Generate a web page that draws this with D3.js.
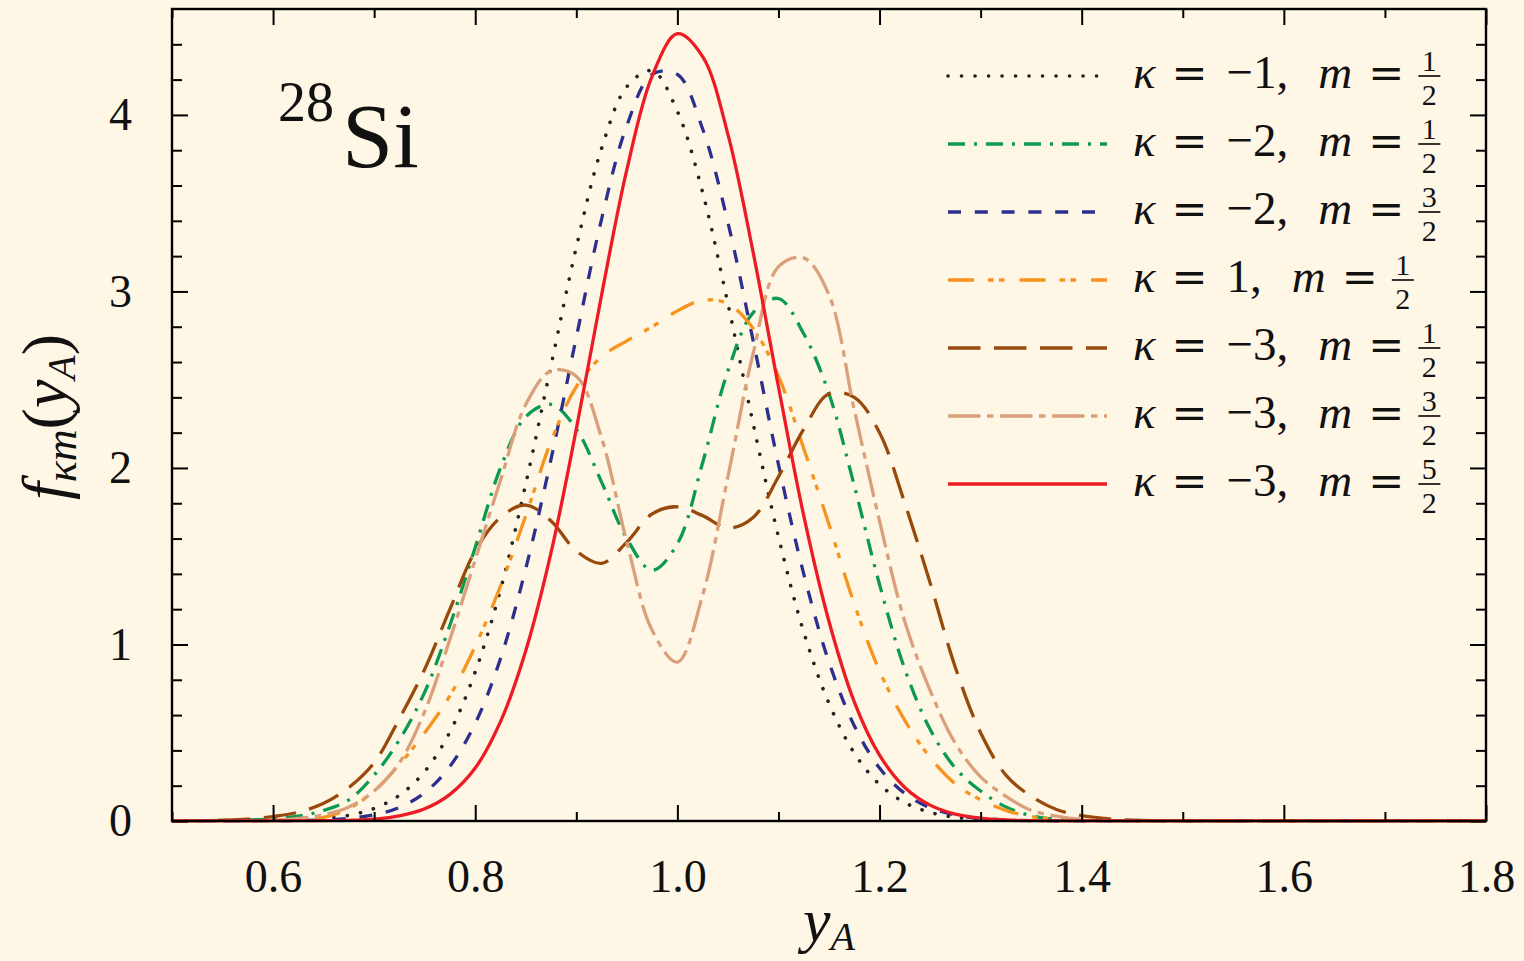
<!DOCTYPE html>
<html><head><meta charset="utf-8">
<script src="https://cdn.jsdelivr.net/npm/d3@7"></script>
<style>
html,body{margin:0;padding:0;background:#fef7e6;}
svg{display:block;}
text{font-family:"Liberation Serif","DejaVu Serif",serif;fill:#111;}
</style>
</head><body>
<svg id="chart" width="1524" height="961"></svg>
<script>
// ---------------- data ----------------
const xGrid = [0.500,0.525,0.550,0.575,0.600,0.625,0.650,0.675,0.700,0.725,0.750,0.775,0.800,0.825,0.850,0.875,0.900,0.925,0.950,0.975,1.000,1.025,1.050,1.075,1.100,1.125,1.150,1.175,1.200,1.225,1.250,1.275,1.300,1.325,1.350,1.375,1.400,1.425,1.450,1.475,1.500,1.800];

const fK1m1 = [0,0,0,0.0005,0.002,0.005,0.013,0.032,0.071,0.146,0.28,0.505,0.845,1.31,1.91,2.58,3.25,3.81,4.16,4.25,4.02,3.56,2.93,2.25,1.61,1.07,0.666,0.385,0.207,0.104,0.049,0.021,0.0086,0.0033,0.001,0,0,0,0,0,0,0];
const fK2m1 = [0,0.001,0.003,0.006,0.012,0.027,0.06,0.12,0.26,0.46,0.73,1.11,1.55,2.0,2.29,2.36,2.22,1.92,1.60,1.42,1.57,2.03,2.55,2.88,2.96,2.76,2.42,1.90,1.34,0.86,0.52,0.30,0.17,0.08,0.03,0.01,0.003,0.001,0,0,0,0];
const fK2m3 = [0,0,0,0.0002,0.0007,0.002,0.0056,0.0145,0.035,0.077,0.16,0.31,0.553,0.92,1.43,2.05,2.74,3.41,3.94,4.23,4.23,3.92,3.39,2.72,2.02,1.40,0.90,0.54,0.30,0.156,0.075,0.034,0.014,0.005,0.002,0,0,0,0,0,0,0];
const fKp1m1 = [0,0,0,0.001,0.003,0.008,0.02,0.07,0.17,0.32,0.50,0.71,0.99,1.33,1.73,2.15,2.46,2.63,2.72,2.80,2.89,2.95,2.93,2.79,2.52,2.11,1.68,1.23,0.85,0.57,0.36,0.21,0.12,0.06,0.025,0.01,0.003,0.001,0,0,0,0];
const fK3m1 = [0,0.002,0.004,0.01,0.025,0.05,0.10,0.19,0.33,0.58,0.86,1.20,1.53,1.72,1.79,1.70,1.53,1.46,1.58,1.74,1.78,1.73,1.66,1.72,1.95,2.22,2.42,2.40,2.20,1.80,1.35,0.87,0.50,0.26,0.14,0.065,0.03,0.013,0.005,0.002,0,0];
const fK3m3 = [0,0,0,0.002,0.005,0.015,0.035,0.08,0.17,0.33,0.62,1.03,1.48,1.93,2.36,2.55,2.52,2.17,1.58,1.08,0.90,1.28,1.95,2.65,3.14,3.19,2.98,2.33,1.70,1.13,0.74,0.44,0.25,0.14,0.06,0.028,0.009,0.002,0,0,0,0];
const fK3m5 = [0,0,0,0,0.0001,0.0005,0.0014,0.004,0.011,0.029,0.069,0.151,0.30,0.563,0.965,1.52,2.22,2.98,3.69,4.22,4.46,4.33,3.89,3.22,2.46,1.73,1.13,0.675,0.373,0.19,0.09,0.039,0.016,0.006,0.002,0,0,0,0,0,0,0];

const seriesValues = [fK1m1, fK2m1, fK2m3, fKp1m1, fK3m1, fK3m3, fK3m5];
const seriesKappa = ["\u22121", "\u22122", "\u22122", "1", "\u22123", "\u22123", "\u22123"];
const seriesMNum = ["1", "1", "3", "1", "1", "3", "5"];
const seriesMDen = ["2", "2", "2", "2", "2", "2", "2"];
const seriesColors = ["#222222", "#0b9a50", "#2c2f8e", "#f7941d", "#984a0c", "#d9a07b", "#ed1c24"];
const seriesDash = ["0.1,13.4", "17,9,3,9", "13,13.8", "26,14,5.5,5.5,5.5,15", "32.5,13.5", "32.5,6.5,6.5,6.5", null];

const xTickMajor = [0.6, 0.8, 1.0, 1.2, 1.4, 1.6, 1.8];
const xTickLabels = ["0.6", "0.8", "1.0", "1.2", "1.4", "1.6", "1.8"];
const xTickMinor = [0.5, 0.7, 0.9, 1.1, 1.3, 1.5, 1.7];
const yTickMajor = [0, 1, 2, 3, 4];
const yTickLabels = ["0", "1", "2", "3", "4"];
const yTickMinor = [0.2,0.4,0.6,0.8,1.2,1.4,1.6,1.8,2.2,2.4,2.6,2.8,3.2,3.4,3.6,3.8,4.2,4.4];

// ---------------- layout ----------------
const svg = d3.select("#chart");
svg.append("rect").attr("width", 1524).attr("height", 961).attr("fill", "#fef7e6");

const L = 172, R = 1486, T = 9, B = 821;
const x = d3.scaleLinear().domain([0.5, 1.8]).range([L, R]);
const y = d3.scaleLinear().domain([0, 4.6]).range([B, T]);

svg.append("defs").append("clipPath").attr("id", "clip")
  .append("rect").attr("x", L).attr("y", T).attr("width", R - L).attr("height", B - T + 1.5);

// curves
const line = d3.line().x((d, i) => x(xGrid[i])).y(d => y(d)).curve(d3.curveCatmullRom.alpha(0.5));
const gCurves = svg.append("g").attr("clip-path", "url(#clip)");
seriesValues.forEach((vals, k) => {
  const p = gCurves.append("path").datum(vals)
    .attr("d", line)
    .attr("fill", "none")
    .attr("stroke", seriesColors[k])
    .attr("stroke-width", k === 0 ? 3.6 : 3.3);
  if (seriesDash[k]) p.attr("stroke-dasharray", seriesDash[k]);
  if (k === 0) p.attr("stroke-linecap", "round");
});

// axes (ticks pointing inward)
function styleAxis(g) {
  g.attr("font-family", null);
  g.select(".domain").remove();
  g.selectAll(".tick line").attr("stroke", "#000").attr("stroke-width", 2);
  g.selectAll("text").style("font-family", '"Liberation Serif", "DejaVu Serif", serif').style("font-size", "46px").attr("fill", "#111");
}
const fmtX = d => xTickLabels[xTickMajor.indexOf(d)];
const fmtY = d => yTickLabels[yTickMajor.indexOf(d)];

svg.append("g").attr("transform", `translate(0,${B})`)
  .call(d3.axisBottom(x).tickValues(xTickMajor).tickFormat(fmtX).tickSizeInner(-16).tickSizeOuter(0).tickPadding(38))
  .call(styleAxis);
svg.append("g").attr("transform", `translate(0,${B})`)
  .call(d3.axisBottom(x).tickValues(xTickMinor).tickFormat("").tickSizeInner(-9).tickSizeOuter(0))
  .call(styleAxis);
svg.append("g").attr("transform", `translate(0,${T})`)
  .call(d3.axisTop(x).tickValues(xTickMajor).tickFormat("").tickSizeInner(-16).tickSizeOuter(0))
  .call(styleAxis);
svg.append("g").attr("transform", `translate(0,${T})`)
  .call(d3.axisTop(x).tickValues(xTickMinor).tickFormat("").tickSizeInner(-9).tickSizeOuter(0))
  .call(styleAxis);
svg.append("g").attr("transform", `translate(${L},0)`)
  .call(d3.axisLeft(y).tickValues(yTickMajor).tickFormat(fmtY).tickSizeInner(-16).tickSizeOuter(0).tickPadding(40))
  .call(styleAxis);
svg.append("g").attr("transform", `translate(${L},0)`)
  .call(d3.axisLeft(y).tickValues(yTickMinor).tickFormat("").tickSizeInner(-10).tickSizeOuter(0))
  .call(styleAxis);
svg.append("g").attr("transform", `translate(${R},0)`)
  .call(d3.axisRight(y).tickValues(yTickMajor).tickFormat("").tickSizeInner(-16).tickSizeOuter(0))
  .call(styleAxis);
svg.append("g").attr("transform", `translate(${R},0)`)
  .call(d3.axisRight(y).tickValues(yTickMinor).tickFormat("").tickSizeInner(-10).tickSizeOuter(0))
  .call(styleAxis);

// frame
svg.append("rect").attr("x", L).attr("y", T).attr("width", R - L).attr("height", B - T)
  .attr("fill", "none").attr("stroke", "#000").attr("stroke-width", 2.4);

// axis titles
const xl = svg.append("text").attr("x", 829).attr("y", 941).attr("text-anchor", "middle")
  .style("font-size", "62px");
xl.append("tspan").style("font-style", "italic").text("y");
xl.append("tspan").style("font-style", "italic").style("font-size", "40px").attr("dy", 9).text("A");

const yl = svg.append("text").attr("transform", "translate(66,417) rotate(-90)").attr("text-anchor", "middle")
  .style("font-size", "64px");
yl.append("tspan").style("font-style", "italic").text("f");
yl.append("tspan").style("font-style", "italic").style("font-size", "44px").attr("dy", 10).text("\u03bam");
yl.append("tspan").attr("dy", -10).text("(");
yl.append("tspan").style("font-style", "italic").text("y");
yl.append("tspan").style("font-style", "italic").style("font-size", "40px").attr("dy", 9).text("A");
yl.append("tspan").attr("dy", -9).text(")");

// nucleus label
svg.append("text").attr("x", 278).attr("y", 121).style("font-size", "56px").text("28");
svg.append("text").attr("x", 342).attr("y", 167).style("font-size", "92px").text("Si");

// legend
const legY0 = 76, legStep = 68;
const gLeg = svg.append("g");
seriesValues.forEach((vals, k) => {
  const ry = legY0 + k * legStep;
  const ln = gLeg.append("line").attr("x1", 948).attr("x2", 1107).attr("y1", ry).attr("y2", ry)
    .attr("stroke", seriesColors[k]).attr("stroke-width", k === 0 ? 3.6 : 3.3);
  if (seriesDash[k]) ln.attr("stroke-dasharray", seriesDash[k]);
  if (k === 0) ln.attr("stroke-linecap", "round");

  const t = gLeg.append("text").attr("x", 1133).attr("y", ry + 12).style("font-size", "47px");
  t.append("tspan").style("font-style", "italic").text("\u03ba");
  t.append("tspan").attr("dx", 16).style("font-family", '"DejaVu Serif", serif').style("font-size", "43px").text("=");
  t.append("tspan").attr("dx", 19).text(seriesKappa[k] + ",");
  t.append("tspan").attr("dx", 30).style("font-style", "italic").text("m");
  t.append("tspan").attr("dx", 16).style("font-family", '"DejaVu Serif", serif').style("font-size", "43px").text("=");
  const bb = t.node().getBBox();
  const cx = bb.x + bb.width + 25;
  gLeg.append("text").attr("x", cx).attr("y", ry - 5).attr("text-anchor", "middle").style("font-size", "30px").text(seriesMNum[k]);
  gLeg.append("text").attr("x", cx).attr("y", ry + 29).attr("text-anchor", "middle").style("font-size", "30px").text(seriesMDen[k]);
  gLeg.append("line").attr("x1", cx - 11).attr("x2", cx + 11).attr("y1", ry).attr("y2", ry)
    .attr("stroke", "#111").attr("stroke-width", 1.7);
});
</script>
</body></html>
